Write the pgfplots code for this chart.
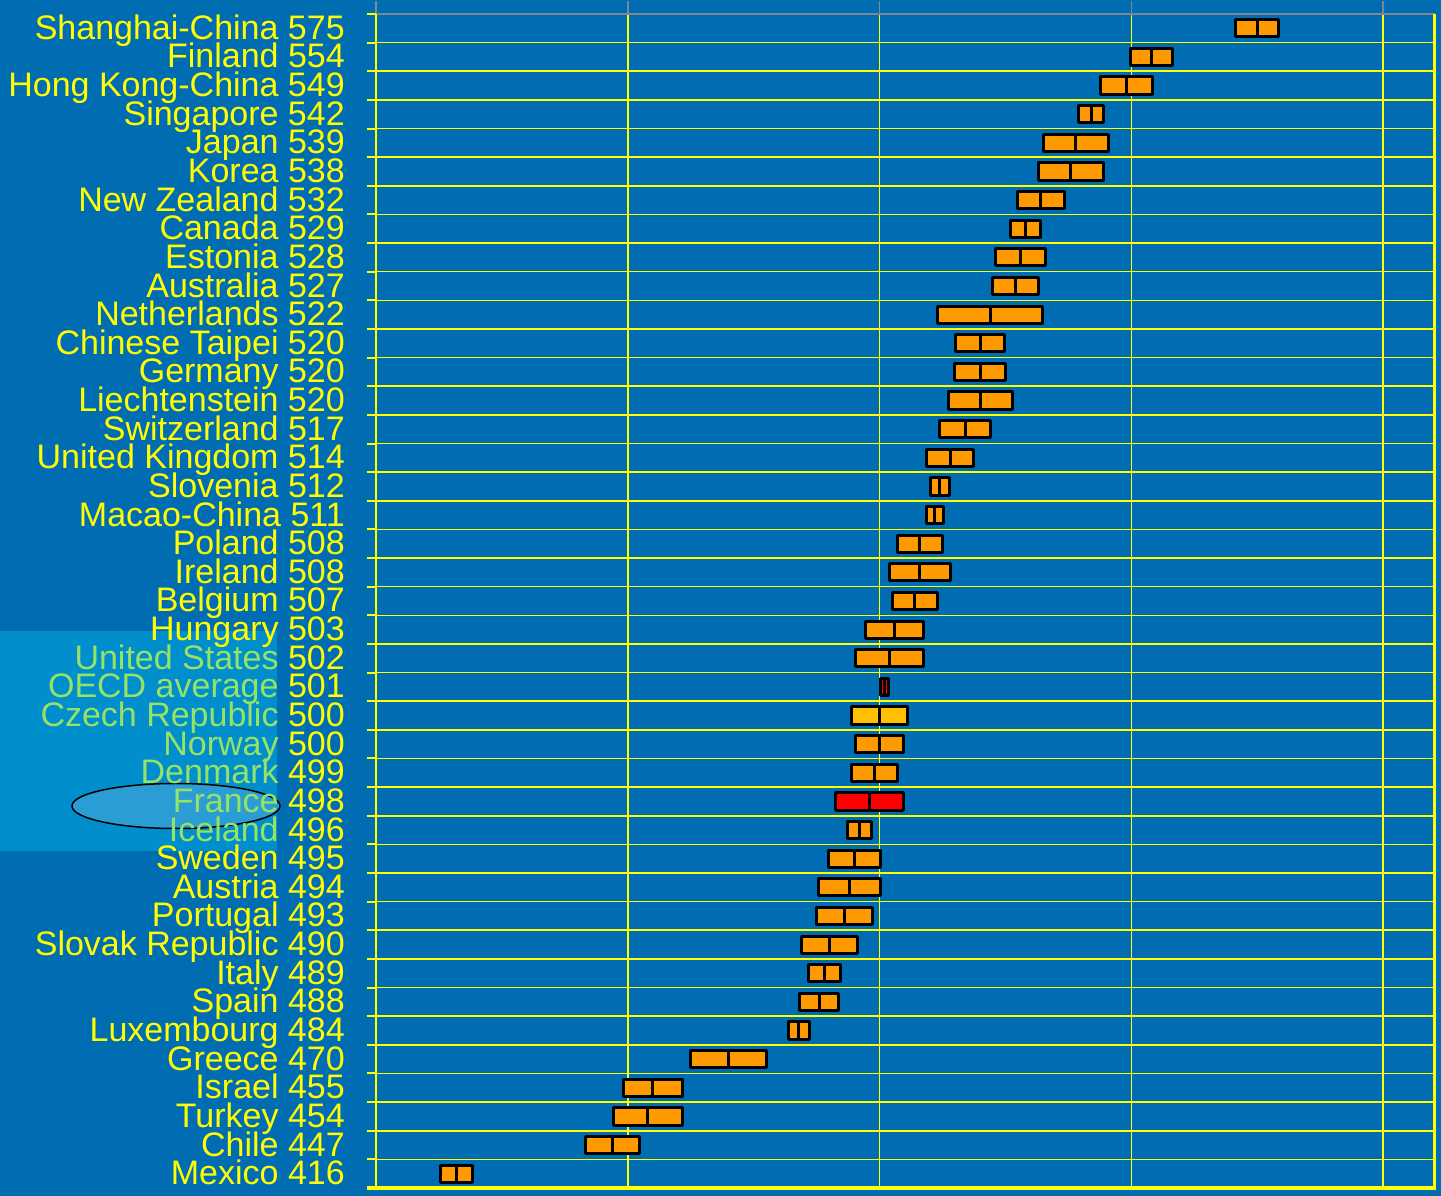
\documentclass[border=0pt]{standalone}
\usepackage{pgfplots}
\pgfplotsset{compat=1.18}
\usepackage{pgfplotstable}
\usepackage{fontspec}
\setmainfont{Liberation Sans}
\definecolor{bgblue}{RGB}{0,109,178}
\definecolor{hlblue}{RGB}{0,142,204}
\definecolor{ellfill}{RGB}{42,158,212}
\definecolor{ylw}{RGB}{255,255,0}
\definecolor{hlgreen}{RGB}{150,226,100}
\definecolor{boxorange}{RGB}{255,153,0}
\definecolor{boxyellow}{RGB}{255,192,0}
\definecolor{boxred}{RGB}{255,0,0}
\definecolor{topgray}{RGB}{125,135,150}

% rows from top (Shanghai) to bottom (Mexico): mean, lower and upper bound of the box
\pgfplotstableread{
mean lo hi col
575 570.7 579.3 boxorange
554 549.8 558.2 boxorange
549 543.8 554.2 boxorange
542 539.6 544.4 boxorange
539 532.5 545.5 boxorange
538 531.5 544.5 boxorange
532 527.3 536.7 boxorange
529 526.1 531.9 boxorange
528 523.1 532.9 boxorange
527 522.4 531.6 boxorange
522 511.6 532.4 boxorange
520 515.1 524.9 boxorange
520 514.9 525.1 boxorange
520 513.6 526.4 boxorange
517 511.9 522.1 boxorange
514 509.4 518.6 boxorange
512 510.1 513.9 boxorange
511 509.25 512.75 boxorange
508 503.6 512.4 boxorange
508 502.0 514.0 boxorange
507 502.5 511.5 boxorange
503 497.2 508.8 boxorange
502 495.2 508.8 boxorange
501 500.15 501.85 boxred
500 494.5 505.5 boxyellow
500 495.3 504.7 boxorange
499 494.5 503.5 boxorange
498 491.3 504.7 boxred
496 493.6 498.4 boxorange
495 489.9 500.1 boxorange
494 487.9 500.1 boxorange
493 487.5 498.5 boxorange
490 484.4 495.6 boxorange
489 485.8 492.2 boxorange
488 484.2 491.8 boxorange
484 481.9 486.1 boxorange
470 462.4 477.6 boxorange
455 449.1 460.9 boxorange
454 447.1 460.9 boxorange
447 441.6 452.4 boxorange
416 412.8 419.2 boxorange
}\pisa

\begin{document}
\begin{tikzpicture}
\useasboundingbox (-376bp,-8bp) rectangle (1065bp,1188bp);
\fill[bgblue] (-376bp,-8bp) rectangle (1065bp,1188bp);
\fill[hlblue] (-376bp,337bp) rectangle (-99bp,557bp);
\draw[black, line width=1.5bp, fill=ellfill] (-200bp,382bp) ellipse [x radius=104bp, y radius=22.5bp];
\begin{axis}[
  at={(0,0)}, anchor=south west,
  scale only axis, width=1059bp, height=1174bp,
  xmin=400, xmax=610.3, ymin=-0.5, ymax=40.5,
  clip=false,
  axis line style={draw=none},
  tick align=outside,
  major tick length=13bp, minor tick length=9bp,
  xtick={400,450,500,550,600}, xticklabels={}, xtick pos=right,
  xtick style={topgray, line width=1.5bp},
  xmajorgrids=false,
  minor xtick={450,500,550,600},
  xminorgrids=true,
  ytick={0,...,40}, ytick pos=left,
  minor ytick={-0.5,0.5,...,40.5},
  yminorgrids=true,
  minor grid style={ylw, line width=1.6bp},
  ytick style={ylw, line width=2bp},
  major y tick style={draw=none},
  yticklabel style={anchor=base east, inner sep=0pt, text=ylw,
    font=\fontsize{34bp}{36bp}\selectfont, yshift=-11bp, xshift=-18bp},
  yticklabels={
    {Mexico 416},{Chile 447},{Turkey 454},{Israel 455},{Greece 470},
    {Luxembourg 484},{Spain 488},{Italy 489},{Slovak Republic 490},
    {Portugal 493},{Austria 494},{Sweden 495},
    {\textcolor{hlgreen}{Iceland} 496},{\textcolor{hlgreen}{France} 498},
    {\textcolor{hlgreen}{Denmark} 499},{\textcolor{hlgreen}{Norway} 500},
    {\textcolor{hlgreen}{Czech Republic} 500},{\textcolor{hlgreen}{OECD average} 501},
    {\textcolor{hlgreen}{United States} 502},
    {Hungary 503},{Belgium 507},{Ireland 508},{Poland 508},{Macao-China 511},
    {Slovenia 512},{United Kingdom 514},{Switzerland 517},{Liechtenstein 520},
    {Germany 520},{Chinese Taipei 520},{Netherlands 522},{Australia 527},
    {Estonia 528},{Canada 529},{New Zealand 532},{Korea 538},{Japan 539},
    {Singapore 542},{Hong Kong-China 549},{Finland 554},{Shanghai-China 575}},
]
\pgfplotsforeachungrouped \i in {0,...,40}{%
  \pgfplotstablegetelem{\i}{lo}\of\pisa \let\bxlo=\pgfplotsretval
  \pgfplotstablegetelem{\i}{hi}\of\pisa \let\bxhi=\pgfplotsretval
  \pgfplotstablegetelem{\i}{mean}\of\pisa \let\bxm=\pgfplotsretval
  \pgfplotstablegetelem{\i}{col}\of\pisa \let\bxcol=\pgfplotsretval
  \pgfmathsetmacro\bxyb{40-\i-0.3}%
  \pgfmathsetmacro\bxyt{40-\i+0.3}%
  \edef\doplot{%
    \noexpand\addplot[draw=black, line width=3bp, fill=\bxcol, line join=round]
      coordinates {(\bxlo,\bxyb) (\bxhi,\bxyb) (\bxhi,\bxyt) (\bxlo,\bxyt)} -- cycle;
    \noexpand\addplot[draw=black, line width=3bp]
      coordinates {(\bxm,\bxyb) (\bxm,\bxyt)};
  }\doplot
}
\draw[topgray, line width=2bp] (rel axis cs:0,1) -- (rel axis cs:1,1);
\draw[ylw, line width=2.5bp] (rel axis cs:0,0) -- (rel axis cs:0,1);
\draw[ylw, line width=3bp] (rel axis cs:1,0) -- (rel axis cs:1,1);
\draw[ylw, line width=4bp] ([xshift=-9bp]rel axis cs:0,0) -- ([xshift=1.5bp]rel axis cs:1,0);
\end{axis}
\end{tikzpicture}
\end{document}
